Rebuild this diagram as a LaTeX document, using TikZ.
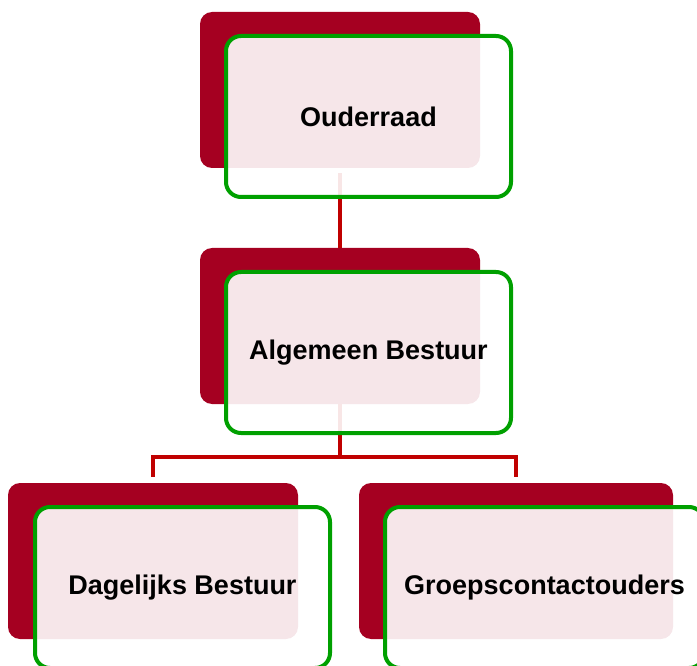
\documentclass[tikz,border=0pt]{standalone}
\usepackage{fontspec}
\setmainfont{Liberation Sans}
\usepackage{xcolor}
\usepackage{tikz}
\definecolor{wine}{HTML}{A50021}
\definecolor{leaf}{HTML}{00A000}
\definecolor{linkred}{HTML}{C00000}
\tikzset{
  back/.style={fill=wine, rounded corners=12pt, minimum height=156pt, inner sep=0pt},
  front/.style={draw=leaf, line width=4pt, fill=white, fill opacity=0.9, text opacity=1,
    rounded corners=15pt, minimum height=161pt, inner sep=0pt,
    font=\fontsize{27}{32}\selectfont\bfseries},
  link/.style={draw=linkred, line width=4pt}
}
\begin{document}
\begin{tikzpicture}[x=1pt,y=-1pt]
\useasboundingbox (0,0) rectangle (697,666);
\clip (0,0) rectangle (697,666);
% back plates
\node[back, minimum width=280pt] (ouderB) at (340,90) {};
\node[back, minimum width=280pt] (algB) at (340,326) {};
\node[back, minimum width=290pt] (dagB) at (153,561) {};
\node[back, minimum width=314pt] (groepB) at (516,561) {};

% connectors
\coordinate (split) at (340,457);
\draw[link, shorten <=5pt] (ouderB.south) -- (algB.north);
\draw[link] (algB.south) -- (split);
\draw[link, shorten <=6pt, shorten >=6pt] (dagB.north) |- (split) -| (groepB.north);

% front boxes
\node[front, minimum width=285pt] (ouder) at (368.5,116.5) {Ouderraad};
\node[front, minimum width=285pt] (alg) at (368.5,352.5) {Algemeen Bestuur};
\node[front, minimum width=295pt] (dag) at (182.5,587.5) {Dagelijks Bestuur};
\node[front, minimum width=319pt] (groep) at (544.5,587.5) {Groepscontactouders};
\end{tikzpicture}
\end{document}
